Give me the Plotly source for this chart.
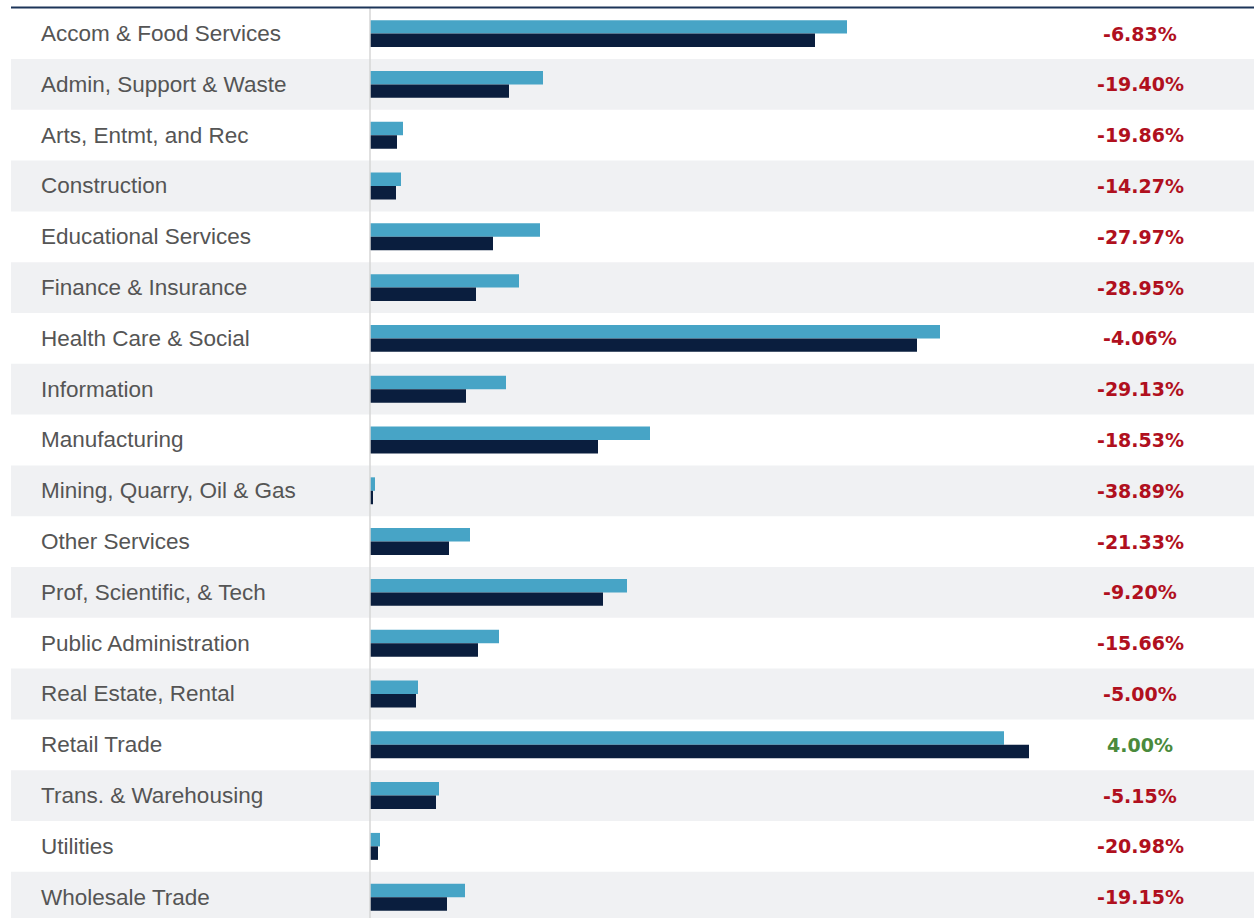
import plotly.graph_objects as go

categories = [
    "Accom & Food Services", "Admin, Support & Waste", "Arts, Entmt, and Rec",
    "Construction", "Educational Services", "Finance & Insurance",
    "Health Care & Social", "Information", "Manufacturing",
    "Mining, Quarry, Oil & Gas", "Other Services", "Prof, Scientific, & Tech",
    "Public Administration", "Real Estate, Rental", "Retail Trade",
    "Trans. & Warehousing", "Utilities", "Wholesale Trade",
]
prior_values = [477, 173, 33, 31, 170, 149, 570, 136, 280, 5, 100, 257, 129, 48, 634, 69, 10, 95]
current_values = [445, 139, 27, 26, 123, 106, 547, 96, 228, 3, 79, 233, 108, 46, 659, 66, 8, 77]
pct_labels = ["-6.83%", "-19.40%", "-19.86%", "-14.27%", "-27.97%", "-28.95%",
              "-4.06%", "-29.13%", "-18.53%", "-38.89%", "-21.33%", "-9.20%",
              "-15.66%", "-5.00%", "4.00%", "-5.15%", "-20.98%", "-19.15%"]

W, H = 1254, 918
LIGHT = "#47a4c6"
DARK = "#0a1e3e"
STRIPE = "#f0f1f3"
RED = "#b0101e"
GREEN = "#4a8a3c"

fig = go.Figure()
fig.add_trace(go.Bar(y=categories, x=prior_values, orientation="h",
                     marker=dict(color=LIGHT, line=dict(width=0)), name="Prior"))
fig.add_trace(go.Bar(y=categories, x=current_values, orientation="h",
                     marker=dict(color=DARK, line=dict(width=0)), name="Current"))

shapes = []
for i, c in enumerate(categories):
    if i % 2 == 1:
        shapes.append(dict(type="rect", xref="paper", yref="y",
                           x0=11 / W, x1=1, y0=i - 0.5, y1=i + 0.5,
                           fillcolor=STRIPE, line=dict(width=0), layer="below"))
shapes.append(dict(type="line", xref="paper", yref="paper",
                   x0=370 / W, x1=370 / W, y0=0, y1=1 - 8 / H,
                   line=dict(color="#d6d6d6", width=1.5), layer="above"))
shapes.append(dict(type="line", xref="paper", yref="paper",
                   x0=11 / W, x1=1, y0=1 - 7.5 / H, y1=1 - 7.5 / H,
                   line=dict(color="#1c3559", width=2)))

annotations = []
for i, c in enumerate(categories):
    annotations.append(dict(xref="paper", yref="y", x=39 / W, y=c, text=c,
                            xanchor="left", yanchor="middle", showarrow=False,
                            font=dict(family="Liberation Sans, Arial, sans-serif",
                                      size=22.5, color="#555555")))
    col = GREEN if not pct_labels[i].startswith("-") else RED
    annotations.append(dict(xref="paper", yref="y", x=1140 / W, y=c, text=pct_labels[i],
                            xanchor="center", yanchor="middle", showarrow=False,
                            font=dict(family="DejaVu Sans, sans-serif",
                                      size=19, color=col, weight=600)))

fig.update_layout(
    width=W, height=H,
    margin=dict(l=0, r=0, t=0, b=0),
    paper_bgcolor="white", plot_bgcolor="rgba(0,0,0,0)",
    barmode="group", bargap=0.47, bargroupgap=0,
    showlegend=False,
    shapes=shapes, annotations=annotations,
    xaxis=dict(domain=[370 / W, 1], range=[0, 884], showgrid=False,
               zeroline=False, showticklabels=False, showline=False, fixedrange=True),
    yaxis=dict(domain=[0, 1 - 8.2 / H], type="category",
               categoryorder="array", categoryarray=categories,
               range=[17.41, -0.5], showgrid=False, zeroline=False,
               showticklabels=False, showline=False, fixedrange=True),
)

fig.write_html("out.html", config={"displayModeBar": False})
